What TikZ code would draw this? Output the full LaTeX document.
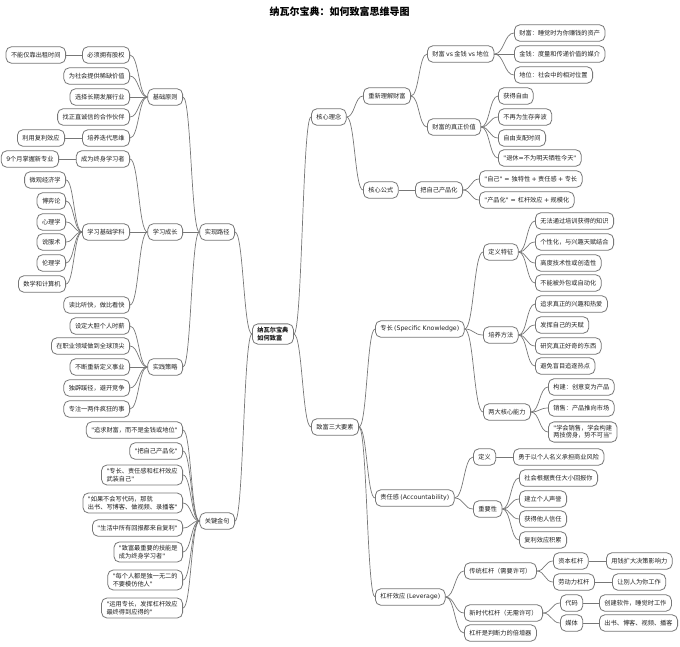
\documentclass[tikz,border=0pt]{standalone}
\usepackage{fontspec}
\usepackage{xcolor}
\usepackage{tikz}
\usetikzlibrary{calc}
\setmainfont{Noto Sans CJK SC}
\newfontfamily\enfont{DejaVu Sans}
\newcommand{\en}[1]{{\enfont #1}}
\newcommand{\dou}{\char"FF0C\relax}
\newcommand{\mao}{\char"FF1A\relax}
\newcommand{\zuo}{\char"FF08\relax}
\newcommand{\you}{\char"FF09\relax}
\definecolor{boxline}{HTML}{777777}
\definecolor{boxtext}{HTML}{222222}
\tikzset{
  topic/.style={draw=boxline,rounded corners=5.5pt,line width=0.8pt,text=boxtext,fill=white,
    font=\fontsize{6.2}{7.3}\selectfont,align=left,inner xsep=5pt,inner ysep=3.5pt,minimum height=16.5pt},
  lefttopic/.style={topic,anchor=east},
  righttopic/.style={topic,anchor=west},
  link/.style={draw=boxline,line width=0.7pt,to path={let \p1=(\tikztostart),\p2=(\tikztotarget) in
    .. controls ({0.5*\x1+0.5*\x2},\y1) and ({0.5*\x1+0.5*\x2},\y2) .. (\tikztotarget)}}
}
\begin{document}
\begin{tikzpicture}[x=1pt,y=-1pt]
  \useasboundingbox (0,0) rectangle (680,646);
  \node[font=\fontsize{10}{12}\selectfont\bfseries] (title) at (339.5,12) {纳瓦尔宝典\mao 如何致富思维导图};

  % centre
  \node[topic,font=\fontsize{6.2}{7.3}\selectfont\bfseries,anchor=west] (root) at (252,334) {纳瓦尔宝典\\如何致富};

  % left side
  \node[lefttopic] (path) at (235,232) {实现路径};
  \node[lefttopic] (basic) at (183,97) {基础原则};
  \node[lefttopic] (grow) at (183,232) {学习成长};
  \node[lefttopic] (act) at (183,367) {实践策略};
  \node[lefttopic] (quote) at (235,521) {关键金句};

  \node[lefttopic] (equity) at (130,55) {必须拥有股权};
  \node[lefttopic] (rent) at (66,55) {不能仅靠出租时间};
  \node[lefttopic] (scarce) at (130,76) {为社会提供稀缺价值};
  \node[lefttopic] (trade) at (130,97) {选择长期发展行业};
  \node[lefttopic] (mate) at (130,117) {找正直诚信的合作伙伴};
  \node[lefttopic] (iter) at (130,138) {培养迭代思维};
  \node[lefttopic] (comp) at (65,138) {利用复利效应};

  \node[lefttopic] (life) at (130,159) {成为终身学习者};
  \node[lefttopic] (nine) at (59,159) {\en{9}个月掌握新专业};
  \node[lefttopic] (subj) at (130,232) {学习基础学科};
  \node[lefttopic] (micro) at (66,180) {微观经济学};
  \node[lefttopic] (game) at (66,201) {博弈论};
  \node[lefttopic] (psy) at (66,222) {心理学};
  \node[lefttopic] (pers) at (66,242) {说服术};
  \node[lefttopic] (ethic) at (66,263) {伦理学};
  \node[lefttopic] (math) at (66,284) {数学和计算机};
  \node[lefttopic] (read) at (130,305) {读比听快\dou 做比看快};

  \node[lefttopic] (wage) at (130,326) {设定大胆个人时薪};
  \node[lefttopic] (peak) at (130,346) {在职业领域做到全球顶尖};
  \node[lefttopic] (redef) at (130,367) {不断重新定义事业};
  \node[lefttopic] (niche) at (130,388) {独辟蹊径\dou 避开竞争};
  \node[lefttopic] (crazy) at (130,409) {专注一两件疯狂的事};

  \node[lefttopic] (q1) at (183,430) {\en{"}追求财富\dou 而不是金钱或地位\en{"}};
  \node[lefttopic] (q2) at (183,451) {\en{"}把自己产品化\en{"}};
  \node[lefttopic] (q3) at (183,475) {\en{"}专长、责任感和杠杆效应\\武装自己\en{"}};
  \node[lefttopic] (q4) at (183,503) {\en{"}如果不会写代码\dou 那就\\出书、写博客、做视频、录播客\en{"}};
  \node[lefttopic] (q5) at (183,528) {\en{"}生活中所有回报都来自复利\en{"}};
  \node[lefttopic] (q6) at (183,552) {\en{"}致富最重要的技能是\\成为终身学习者\en{"}};
  \node[lefttopic] (q7) at (183,580) {\en{"}每个人都是独一无二的\\不要模仿他人\en{"}};
  \node[lefttopic] (q8) at (183,608) {\en{"}运用专长\dou 发挥杠杆效应\\最终得到应得的\en{"}};

  % right side, core ideas
  \node[righttopic] (core) at (311,117) {核心理念};
  \node[righttopic] (three) at (311,427) {致富三大要素};
  \node[righttopic] (rethink) at (363,96) {重新理解财富};
  \node[righttopic] (versus) at (427,54) {财富 \en{vs} 金钱 \en{vs} 地位};
  \node[righttopic] (v1) at (514,33) {财富\mao 睡觉时为你赚钱的资产};
  \node[righttopic] (v2) at (514,54) {金钱\mao 度量和传递价值的媒介};
  \node[righttopic] (v3) at (514,75) {地位\mao 社会中的相对位置};
  \node[righttopic] (worth) at (427,127) {财富的真正价值};
  \node[righttopic] (w1) at (498,96) {获得自由};
  \node[righttopic] (w2) at (498,117) {不再为生存奔波};
  \node[righttopic] (w3) at (498,138) {自由支配时间};
  \node[righttopic] (w4) at (498,158) {\en{"}退休\en{=}不为明天牺牲今天\en{"}};
  \node[righttopic] (formula) at (363,190) {核心公式};
  \node[righttopic] (prod) at (415,190) {把自己产品化};
  \node[righttopic] (f1) at (479,179) {\en{"}自己\en{" = }独特性 \en{+} 责任感 \en{+} 专长};
  \node[righttopic] (f2) at (479,200) {\en{"}产品化\en{" = }杠杆效应 \en{+} 规模化};

  % right side, specific knowledge
  \node[righttopic] (skill) at (375,329) {专长 \en{(Specific Knowledge)}};
  \node[righttopic] (feat) at (483,252) {定义特征};
  \node[righttopic] (s1) at (535,221) {无法通过培训获得的知识};
  \node[righttopic] (s2) at (535,242) {个性化\dou 与兴趣天赋结合};
  \node[righttopic] (s3) at (535,263) {高度技术性或创造性};
  \node[righttopic] (s4) at (535,283) {不能被外包或自动化};
  \node[righttopic] (train) at (483,335) {培养方法};
  \node[righttopic] (t1) at (535,304) {追求真正的兴趣和热爱};
  \node[righttopic] (t2) at (535,325) {发挥自己的天赋};
  \node[righttopic] (t3) at (535,346) {研究真正好奇的东西};
  \node[righttopic] (t4) at (535,366) {避免盲目追逐热点};
  \node[righttopic] (two) at (483,412) {两大核心能力};
  \node[righttopic] (c1) at (548,387) {构建\mao 创意变为产品};
  \node[righttopic] (c2) at (548,408) {销售\mao 产品推向市场};
  \node[righttopic] (c3) at (548,432) {\en{"}学会销售\dou 学会构建\\两技傍身\dou 势不可当\en{"}};

  % right side, accountability
  \node[righttopic] (duty) at (375,498) {责任感 \en{(Accountability)}};
  \node[righttopic] (defn) at (473,457) {定义};
  \node[righttopic] (risk) at (513,457) {勇于以个人名义承担商业风险};
  \node[righttopic] (weight) at (473,509) {重要性};
  \node[righttopic] (d1) at (519,478) {社会根据责任大小回报你};
  \node[righttopic] (d2) at (519,499) {建立个人声誉};
  \node[righttopic] (d3) at (519,519) {获得他人信任};
  \node[righttopic] (d4) at (519,540) {复利效应积累};

  % right side, leverage
  \node[righttopic] (lever) at (375,597) {杠杆效应 \en{(Leverage)}};
  \node[righttopic] (old) at (464,571) {传统杠杆\zuo 需要许可\you};
  \node[righttopic] (capital) at (553,561) {资本杠杆};
  \node[righttopic] (money) at (606,561) {用钱扩大决策影响力};
  \node[righttopic] (labor) at (553,582) {劳动力杠杆};
  \node[righttopic] (others) at (612,582) {让别人为你工作};
  \node[righttopic] (new) at (464,613) {新时代杠杆\zuo 无需许可\you};
  \node[righttopic] (code) at (560,603) {代码};
  \node[righttopic] (soft) at (599,603) {创建软件\dou 睡觉时工作};
  \node[righttopic] (media) at (560,623) {媒体};
  \node[righttopic] (blog) at (599,623) {出书、博客、视频、播客};
  \node[righttopic] (judge) at (464,633) {杠杆是判断力的倍增器};

  % connectors, left
  \draw[link] (root.west) to (path.east);
  \draw[link] (root.west) to (quote.east);
  \draw[link] (path.west) to (basic.east);
  \draw[link] (path.west) to (grow.east);
  \draw[link] (path.west) to (act.east);
  \draw[link] (basic.west) to (equity.east);
  \draw[link] (basic.west) to (scarce.east);
  \draw[link] (basic.west) to (trade.east);
  \draw[link] (basic.west) to (mate.east);
  \draw[link] (basic.west) to (iter.east);
  \draw[link] (equity.west) to (rent.east);
  \draw[link] (iter.west) to (comp.east);
  \draw[link] (grow.west) to (life.east);
  \draw[link] (grow.west) to (subj.east);
  \draw[link] (grow.west) to (read.east);
  \draw[link] (life.west) to (nine.east);
  \draw[link] (subj.west) to (micro.east);
  \draw[link] (subj.west) to (game.east);
  \draw[link] (subj.west) to (psy.east);
  \draw[link] (subj.west) to (pers.east);
  \draw[link] (subj.west) to (ethic.east);
  \draw[link] (subj.west) to (math.east);
  \draw[link] (act.west) to (wage.east);
  \draw[link] (act.west) to (peak.east);
  \draw[link] (act.west) to (redef.east);
  \draw[link] (act.west) to (niche.east);
  \draw[link] (act.west) to (crazy.east);
  \draw[link] (quote.west) to (q1.east);
  \draw[link] (quote.west) to (q2.east);
  \draw[link] (quote.west) to (q3.east);
  \draw[link] (quote.west) to (q4.east);
  \draw[link] (quote.west) to (q5.east);
  \draw[link] (quote.west) to (q6.east);
  \draw[link] (quote.west) to (q7.east);
  \draw[link] (quote.west) to (q8.east);

  % connectors, right
  \draw[link] (root.east) to (core.west);
  \draw[link] (root.east) to (three.west);
  \draw[link] (core.east) to (rethink.west);
  \draw[link] (core.east) to (formula.west);
  \draw[link] (rethink.east) to (versus.west);
  \draw[link] (rethink.east) to (worth.west);
  \draw[link] (versus.east) to (v1.west);
  \draw[link] (versus.east) to (v2.west);
  \draw[link] (versus.east) to (v3.west);
  \draw[link] (worth.east) to (w1.west);
  \draw[link] (worth.east) to (w2.west);
  \draw[link] (worth.east) to (w3.west);
  \draw[link] (worth.east) to (w4.west);
  \draw[link] (formula.east) to (prod.west);
  \draw[link] (prod.east) to (f1.west);
  \draw[link] (prod.east) to (f2.west);
  \draw[link] (three.east) to (skill.west);
  \draw[link] (three.east) to (duty.west);
  \draw[link] (three.east) to (lever.west);
  \draw[link] (skill.east) to (feat.west);
  \draw[link] (skill.east) to (train.west);
  \draw[link] (skill.east) to (two.west);
  \draw[link] (feat.east) to (s1.west);
  \draw[link] (feat.east) to (s2.west);
  \draw[link] (feat.east) to (s3.west);
  \draw[link] (feat.east) to (s4.west);
  \draw[link] (train.east) to (t1.west);
  \draw[link] (train.east) to (t2.west);
  \draw[link] (train.east) to (t3.west);
  \draw[link] (train.east) to (t4.west);
  \draw[link] (two.east) to (c1.west);
  \draw[link] (two.east) to (c2.west);
  \draw[link] (two.east) to (c3.west);
  \draw[link] (duty.east) to (defn.west);
  \draw[link] (duty.east) to (weight.west);
  \draw[link] (defn.east) to (risk.west);
  \draw[link] (weight.east) to (d1.west);
  \draw[link] (weight.east) to (d2.west);
  \draw[link] (weight.east) to (d3.west);
  \draw[link] (weight.east) to (d4.west);
  \draw[link] (lever.east) to (old.west);
  \draw[link] (lever.east) to (new.west);
  \draw[link] (lever.east) to (judge.west);
  \draw[link] (old.east) to (capital.west);
  \draw[link] (old.east) to (labor.west);
  \draw[link] (capital.east) to (money.west);
  \draw[link] (labor.east) to (others.west);
  \draw[link] (new.east) to (code.west);
  \draw[link] (new.east) to (media.west);
  \draw[link] (code.east) to (soft.west);
  \draw[link] (media.east) to (blog.west);
\end{tikzpicture}
\end{document}
